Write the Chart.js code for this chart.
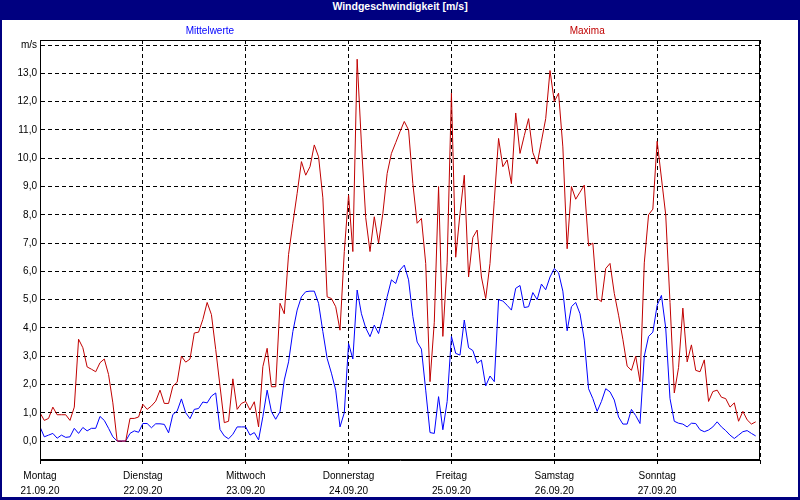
<!DOCTYPE html>
<html lang="de">
<head>
    <meta charset="UTF-8">
    <title>Windgeschwindigkeit</title>
    <script src="https://cdn.jsdelivr.net/npm/chart.js@4.4.0/dist/chart.umd.min.js"></script>
    <style>
        body { margin: 0; background: #000080; }
        #frame { position: relative; width: 800px; height: 500px; background: #000080; overflow: hidden; }
        #titlebar { height: 20px; line-height: 20px; text-align: center; color: #fff;
                    font: bold 10.5px "Liberation Sans", Arial, sans-serif; }
        #plot { position: absolute; left: 2px; top: 20px; width: 796px; height: 477px; background: #fff; }
    </style>
</head>
<body>
<div id="frame">
    <div id="titlebar">Windgeschwindigkeit [m/s]</div>
    <div id="plot"><canvas id="windChart"></canvas></div>
</div>

<script>
    const dayNames = ['Montag', 'Dienstag', 'Mittwoch', 'Donnerstag', 'Freitag', 'Samstag', 'Sonntag'];
    const dayDates = ['21.09.20', '22.09.20', '23.09.20', '24.09.20', '25.09.20', '26.09.20', '27.09.20'];
    const dayTicks = [0, 24, 48, 72, 96, 120, 144, 168];
    const yTicks = [0, 1, 2, 3, 4, 5, 6, 7, 8, 9, 10, 11, 12, 13, 14];

    // hourly values, Mo 00:00 .. So 23:00
    const maxima = [
        1.0, 0.73, 0.8, 1.2, 0.93, 0.93, 0.93, 0.73, 1.2, 3.6, 3.3, 2.62, 2.54, 2.45, 2.77, 2.9, 2.35, 1.35, 0, 0, 0, 0.8, 0.8, 0.85,
        1.3, 1.12, 1.24, 1.41, 1.8, 1.33, 1.33, 1.94, 2.08, 3.0, 2.79, 2.9, 3.82, 3.85, 4.3, 4.9, 4.47, 3.24, 1.94, 0.65, 0.7, 2.2, 1.12, 1.33,
        1.4, 1.1, 1.39, 0.5, 2.63, 3.28, 1.92, 1.92, 4.87, 4.5, 6.6, 7.7, 8.76, 9.88, 9.4, 9.7, 10.47, 10.05, 8.6, 5.1, 5.04, 4.75, 3.92, 6.7,
        8.7, 6.7, 13.5, 10.5, 7.9, 6.7, 7.93, 7.0, 8.05, 9.46, 10.17, 10.55, 10.94, 11.3, 11.0, 9.1, 7.7, 7.87, 6.28, 2.1, 4.2, 9.0, 3.7, 6.3,
        12.3, 6.5, 8.05, 9.4, 5.8, 7.2, 7.46, 5.8, 5.04, 6.28, 8.5, 10.7, 9.7, 9.94, 9.1, 11.6, 10.17, 10.8, 11.4, 10.2, 9.8, 10.6, 11.4, 13.1,
        12.0, 12.3, 10.4, 6.8, 9.0, 8.55, 8.8, 9.05, 6.9, 7.0, 5.04, 4.93, 6.1, 6.28, 5.22, 4.45, 3.6, 2.65, 2.5, 3.0, 2.1, 6.3, 8.0, 8.2,
        10.6, 9.3, 8.0, 4.9, 1.7, 2.6, 4.7, 2.8, 3.4, 2.5, 2.45, 2.87, 1.4, 1.75, 1.8, 1.55, 1.5, 1.2, 1.35, 0.7, 1.05, 0.75, 0.6, 0.68
    ];
    const mittelwerte = [
        0.5, 0.15, 0.21, 0.27, 0.1, 0.21, 0.13, 0.15, 0.45, 0.27, 0.48, 0.36, 0.45, 0.45, 0.87, 0.73, 0.45, 0.15, 0, 0, 0, 0.27, 0.36, 0.31,
        0.62, 0.62, 0.47, 0.61, 0.61, 0.59, 0.29, 0.94, 1.06, 1.49, 1.0, 0.79, 1.12, 1.15, 1.38, 1.35, 1.59, 1.7, 0.41, 0.18, 0.08, 0.24, 0.5, 0.5,
        0.5, 0.21, 0.3, 0.04, 0.86, 1.8, 1.04, 0.77, 1.04, 2.16, 2.8, 3.87, 4.63, 5.1, 5.28, 5.3, 5.3, 4.87, 3.87, 2.92, 2.4, 1.8, 0.5, 1.0,
        3.45, 2.9, 5.34, 4.5, 4.0, 3.69, 4.1, 3.8, 4.4, 5.1, 5.7, 5.57, 6.05, 6.22, 5.7, 4.4, 3.5, 3.25, 1.8, 0.3, 0.27, 1.57, 0.4, 1.4,
        3.7, 3.1, 3.04, 4.28, 3.3, 3.2, 2.75, 2.86, 1.95, 2.3, 2.1, 5.0, 4.95, 4.8, 4.63, 5.4, 5.5, 4.72, 4.75, 5.25, 5.0, 5.55, 5.35, 5.8,
        6.1, 5.95, 5.3, 3.9, 4.75, 4.9, 4.5, 3.57, 1.85, 1.5, 1.05, 1.4, 1.85, 1.74, 1.45, 0.85, 0.6, 0.6, 1.12, 0.9, 0.62, 3.0, 3.7, 3.85,
        4.8, 5.15, 4.0, 1.5, 0.7, 0.63, 0.6, 0.5, 0.63, 0.62, 0.4, 0.33, 0.39, 0.5, 0.68, 0.5, 0.37, 0.21, 0.09, 0.21, 0.33, 0.37, 0.27, 0.18
    ];

    const fontFamily = '"Liberation Sans", Arial, sans-serif';
    const toPoints = (values) => values.map((v, h) => ({ x: h, y: v }));

    // closes the plot box and writes the series names above it
    const framePlugin = {
        id: 'frame',
        afterDraw(chart) {
            const { ctx, chartArea: a } = chart;
            ctx.save();
            ctx.strokeStyle = '#000';
            ctx.lineWidth = 1;
            ctx.strokeRect(Math.round(a.left) + 0.5, Math.round(a.top) + 0.5, Math.round(a.width) - 1, Math.round(a.height) - 1);
            ctx.font = '10px ' + fontFamily;
            ctx.textAlign = 'center';
            ctx.textBaseline = 'middle';
            const spots = { 'Mittelwerte': 0.236, 'Maxima': 0.76 };
            chart.data.datasets.forEach(ds => {
                ctx.fillStyle = ds.borderColor;
                ctx.fillText(ds.label, a.left + a.width * spots[ds.label], 11);
            });
            ctx.restore();
        }
    };

    const ctx = document.getElementById('windChart').getContext('2d');
    new Chart(ctx, {
        type: 'line',
        data: {
            datasets: [
                { label: 'Maxima', data: toPoints(maxima), borderColor: '#c00000', borderWidth: 1, pointRadius: 0, tension: 0, fill: false },
                { label: 'Mittelwerte', data: toPoints(mittelwerte), borderColor: '#0000ff', borderWidth: 1, pointRadius: 0, tension: 0, fill: false }
            ]
        },
        options: {
            responsive: true,
            maintainAspectRatio: false,
            animation: false,
            layout: { padding: { top: 20, right: 38 } },
            plugins: { legend: { display: false }, tooltip: { enabled: false } },
            scales: {
                x: {
                    type: 'linear',
                    min: 0,
                    max: 168,
                    afterBuildTicks: (axis) => { axis.ticks = dayTicks.map(v => ({ value: v })); },
                    afterFit: (axis) => { axis.height = 37; },
                    ticks: {
                        autoSkip: false,
                        maxRotation: 0,
                        padding: 5,
                        color: '#000',
                        font: { family: fontFamily, size: 10, lineHeight: 1.5 },
                        callback: (v) => {
                            const i = dayTicks.indexOf(v);
                            return i >= 0 && i < dayNames.length ? [dayNames[i], dayDates[i]] : '';
                        }
                    },
                    grid: { color: '#000', lineWidth: 1, tickLength: 4, drawOnChartArea: true },
                    border: { color: '#000', width: 1, dash: [4, 3] }
                },
                y: {
                    min: -0.67,
                    max: 14.18,
                    afterBuildTicks: (axis) => { axis.ticks = yTicks.map(v => ({ value: v })); },
                    afterFit: (axis) => { axis.width = 38; },
                    ticks: {
                        padding: 3,
                        color: '#000',
                        font: { family: fontFamily, size: 10 },
                        callback: (v) => v === 14 ? 'm/s' : v.toFixed(1).replace('.', ',')
                    },
                    grid: { color: '#000', lineWidth: 1, drawTicks: false },
                    border: { color: '#000', width: 1, dash: [4, 3] }
                }
            }
        },
        plugins: [framePlugin]
    });
</script>
</body>
</html>
